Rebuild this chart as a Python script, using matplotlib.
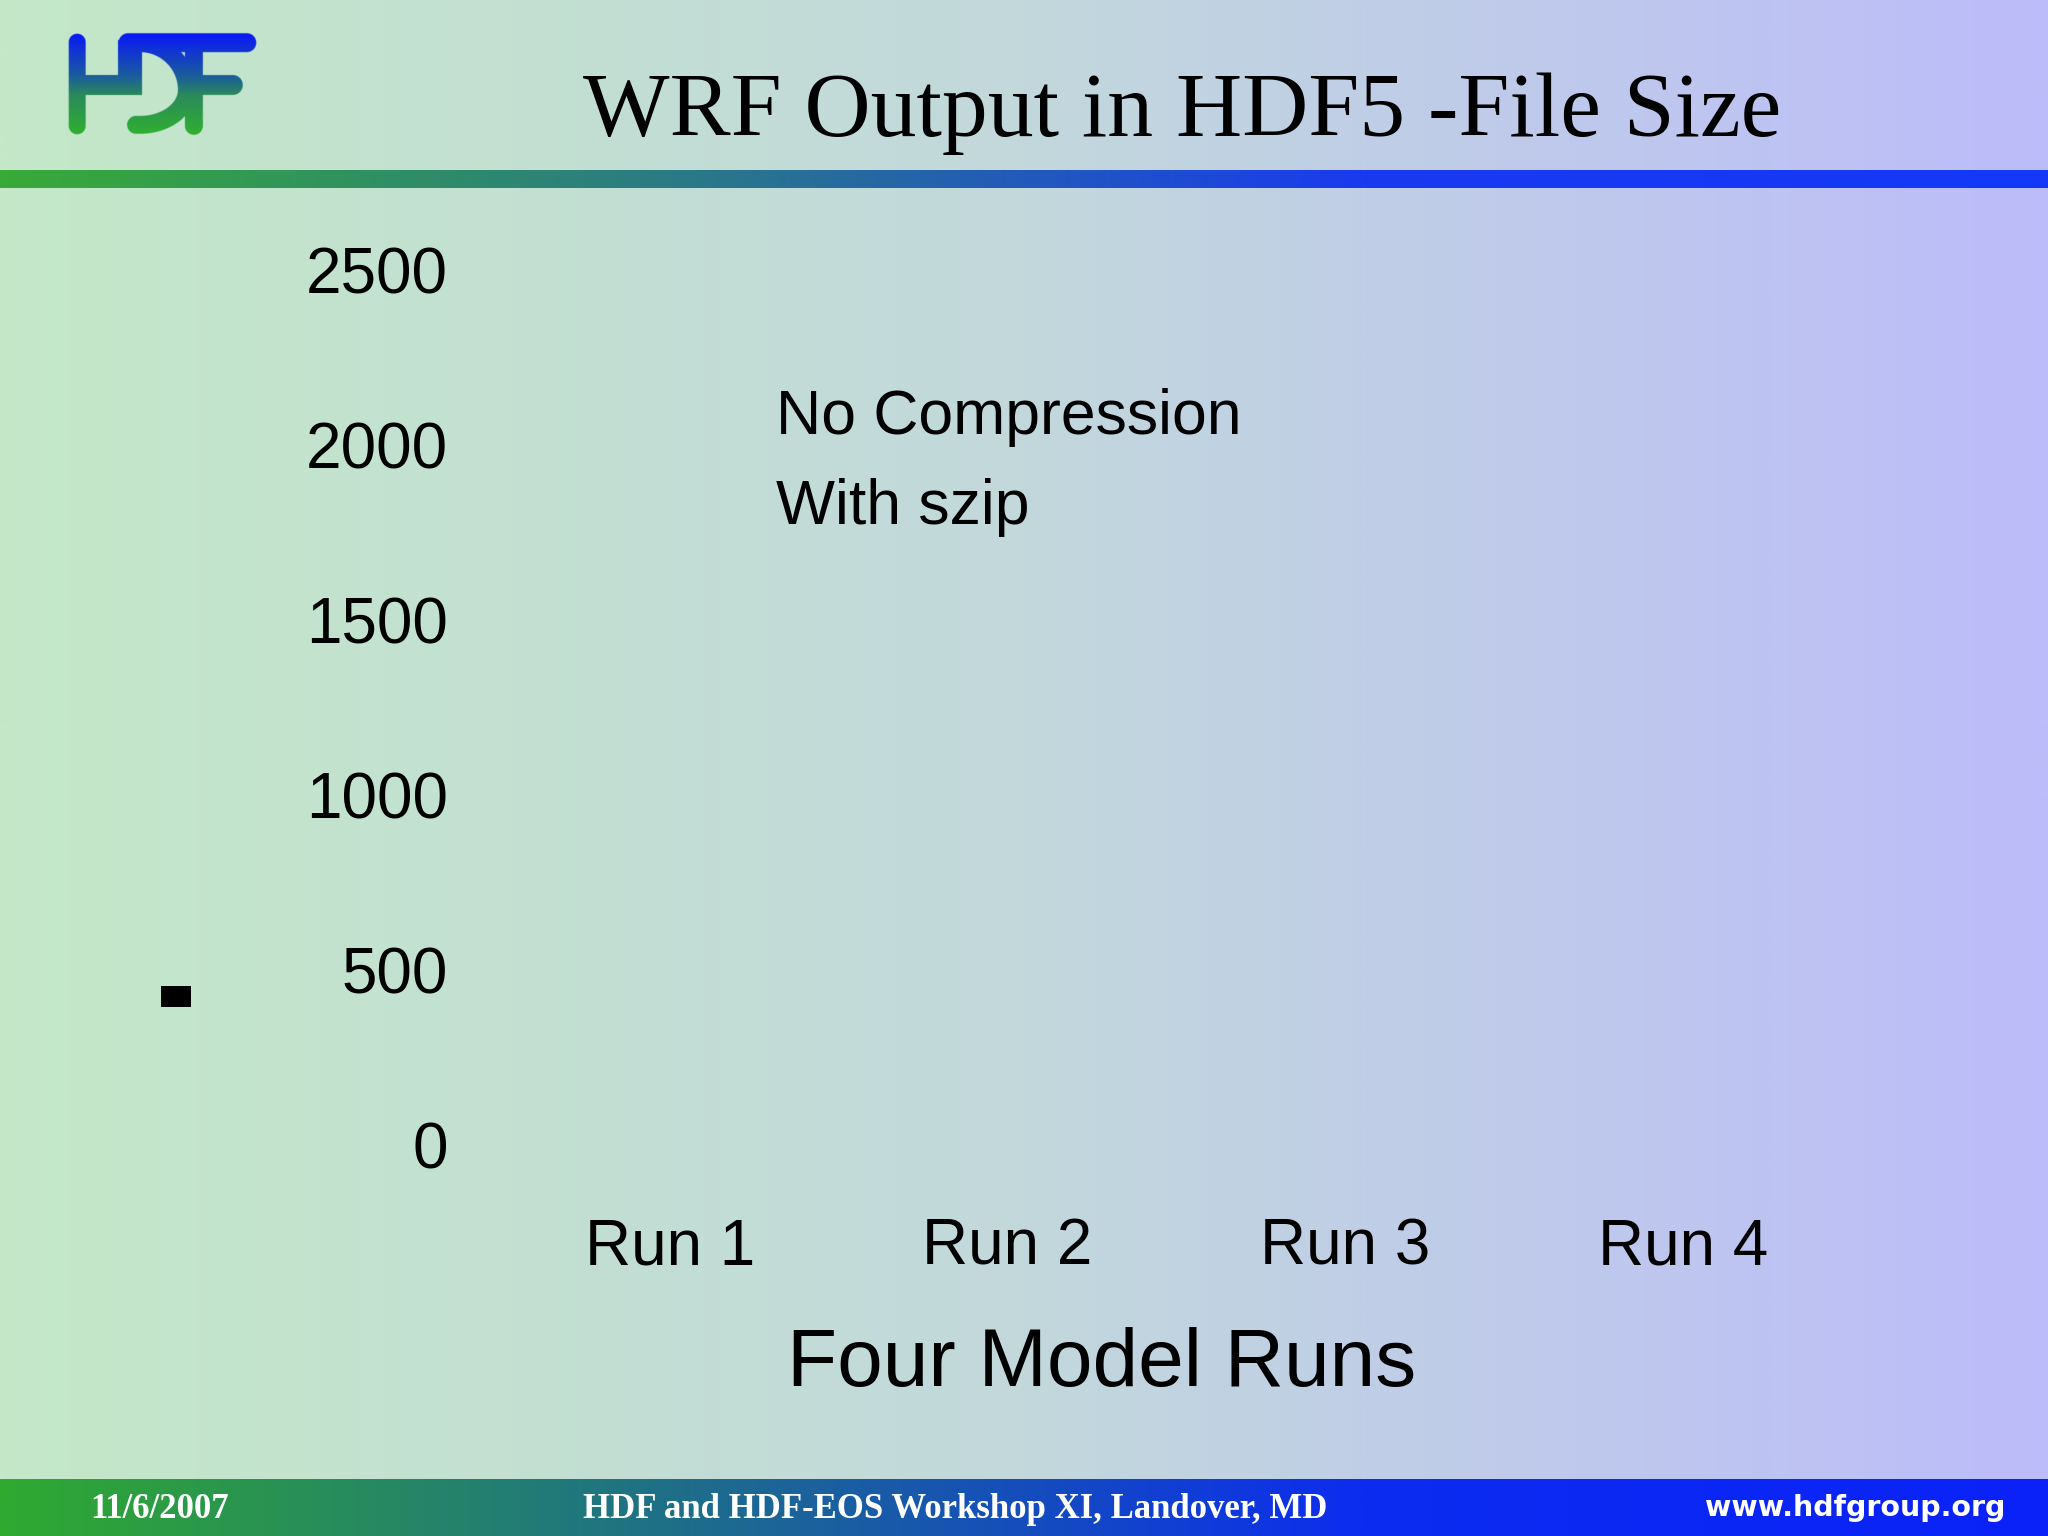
import numpy as np
import matplotlib
matplotlib.use("Agg")
import matplotlib.pyplot as plt
from matplotlib.colors import LinearSegmentedColormap
from matplotlib.patches import Rectangle

# ----------------------------------------------------------------------
# Data (the bars did not render in the original slide)
# ----------------------------------------------------------------------
runs = ["Run 1", "Run 2", "Run 3", "Run 4"]
series_names = ["No Compression", "With szip"]
no_compression = [0, 0, 0, 0]
with_szip = [0, 0, 0, 0]
y_ticks = [0, 500, 1000, 1500, 2000, 2500]

title = "WRF Output in HDF5 -File Size"
x_label = "Four Model Runs"
footer_date = "11/6/2007"
footer_event = "HDF and HDF-EOS Workshop XI, Landover, MD"
footer_url = "www.hdfgroup.org"

W, H = 2048, 1536
fig = plt.figure(figsize=(W / 100, H / 100), dpi=100)


def hgrad(colors, n=512):
    cmap = LinearSegmentedColormap.from_list("g", colors)
    return cmap(np.linspace(0, 1, n))[None, :, :]


# ---------- background ----------
bg = fig.add_axes([0, 0, 1, 1], zorder=0)
bg.imshow(hgrad(["#c4e8c8", "#c2d8dc", "#bcbcfa"]), aspect="auto",
          extent=(0, 1, 0, 1), interpolation="bilinear")

# title band (y 170-188 px) and footer band (y 1480-1536 px)
bg.imshow(hgrad(["#38aa38", "#2a7a86", "#1a3af0", "#1438f8"]), aspect="auto",
          extent=(0, 1, 1 - 188 / H, 1 - 170 / H), interpolation="bilinear")
bg.imshow(hgrad(["#30aa30", "#1e6e8a", "#0c2cf0", "#0a22f8"]), aspect="auto",
          extent=(0, 1, 0, 1 - 1480 / H), interpolation="bilinear")
bg.set_xlim(0, 1)
bg.set_ylim(0, 1)
bg.axis("off")

# small glitch mark left of the axis
bg.add_patch(Rectangle((161 / W, 1 - 1007 / H), 30 / W, 21 / H,
                       facecolor="black", edgecolor="none"))

# ---------- HDF logo ----------
lx0, lx1, ly0, ly1 = 60, 265, 25, 145
gx, gy = np.meshgrid(np.linspace(lx0, lx1, 410), np.linspace(ly0, ly1, 240))
dist = np.full(gx.shape, np.inf)


def seg(ax_, ay_, bx_, by_, r):
    global dist
    px, py = gx - ax_, gy - ay_
    dx, dy = bx_ - ax_, by_ - ay_
    t = np.clip((px * dx + py * dy) / max(dx * dx + dy * dy, 1e-9), 0, 1)
    d = np.hypot(px - t * dx, py - t * dy) - r
    dist = np.minimum(dist, d)


def rect(x0, y0, x1, y1):
    global dist
    dx = np.maximum(np.maximum(x0 - gx, gx - x1), 0)
    dy = np.maximum(np.maximum(y0 - gy, gy - y1), 0)
    inside = (gx >= x0) & (gx <= x1) & (gy >= y0) & (gy <= y1)
    d = np.where(inside, -1.0, np.hypot(dx, dy))
    dist = np.minimum(dist, d)


seg(77, 42, 77, 126, 8.5)          # H stem
rect(80, 75, 142, 95)              # H crossbar
rect(118, 40, 142, 95)             # D left
seg(128, 42.5, 247, 42.5, 9.5)     # top bar
seg(194, 42, 194, 126, 9)          # F stem
seg(194, 85, 233, 85, 10)          # F middle
th = np.linspace(-np.pi / 2, np.pi / 2, 80)
bx = 140 + 47 * np.cos(th)
by = 90 + np.where(th < 0, 47, 35) * np.sin(th)
for i in range(len(th) - 1):
    seg(bx[i], by[i], bx[i + 1], by[i + 1], 9)
seg(140, 125, 136, 125, 9)

alpha = np.clip(0.5 - dist * 2, 0, 1)
logo_cmap = LinearSegmentedColormap.from_list(
    "logo", [(0, "#0a18f8"), (0.4, "#1a5aa0"), (0.6, "#2a8a5a"), (1, "#30b22e")])
yfrac = np.clip((gy - 33) / (137 - 33), 0, 1)
rgba = logo_cmap(yfrac)
rgba[..., 3] = alpha
lax = fig.add_axes([lx0 / W, 1 - ly1 / H, (lx1 - lx0) / W, (ly1 - ly0) / H], zorder=1)
lax.imshow(rgba, extent=(lx0, lx1, ly1, ly0), aspect="auto", interpolation="bilinear")
lax.set_xlim(lx0, lx1)
lax.set_ylim(ly1, ly0)
lax.axis("off")

# ---------- title and footer ----------
fig.text(1182 / W, 1 - 114 / H, title, ha="center", va="center",
         fontsize=66, family="Liberation Serif", color="black", zorder=3)
fig.text(160 / W, 1 - 1509 / H, footer_date, ha="center", va="center",
         fontsize=25, family="Liberation Serif", weight="bold", color="white", zorder=3)
fig.text(955 / W, 1 - 1509 / H, footer_event, ha="center", va="center",
         fontsize=25, family="Liberation Serif", weight="bold", color="white", zorder=3)
fig.text(1855 / W, 1 - 1508 / H, footer_url, ha="center", va="center",
         fontsize=20.5, family="DejaVu Sans", weight="bold", color="white", zorder=3)

# ---------- chart ----------
ax_l, ax_r, ax_t, ax_b = 501, 1852, 270, 1145
ax = fig.add_axes([ax_l / W, 1 - ax_b / H, (ax_r - ax_l) / W, (ax_b - ax_t) / H], zorder=2)
ax.patch.set_alpha(0)
x = np.arange(len(runs))
w = 0.35
ax.bar(x - w / 2, no_compression, w, label=series_names[0],
       facecolor="none", edgecolor="none")
ax.bar(x + w / 2, with_szip, w, label=series_names[1],
       facecolor="none", edgecolor="none")
ax.set_xlim(-0.5, len(runs) - 0.5)
ax.set_ylim(0, 2500)
ax.set_yticks(y_ticks)
ax.set_xticks(x)
ax.set_xticklabels(runs)
for s in ax.spines.values():
    s.set_visible(False)
ax.tick_params(length=0, labelsize=46)
ax.tick_params(axis="y", pad=38)
ax.tick_params(axis="x", pad=52)
for lab in ax.get_xticklabels() + ax.get_yticklabels():
    lab.set_family("Liberation Sans")
ax.set_xlabel(x_label, fontsize=59, family="Liberation Sans")
ax.xaxis.label.set_va("top")
ax.xaxis.set_label_coords((1102 - ax_l) / (ax_r - ax_l), -(1327 - ax_b) / (ax_b - ax_t))

leg = ax.legend(loc="upper left",
                bbox_to_anchor=((776 - ax_l) / (ax_r - ax_l), (ax_b - 388) / (ax_b - ax_t)),
                frameon=False, handlelength=0, handletextpad=0, borderpad=0,
                borderaxespad=0, labelspacing=0.5,
                prop={"family": "Liberation Sans", "size": 45})

fig.savefig("out.png", dpi=100)
